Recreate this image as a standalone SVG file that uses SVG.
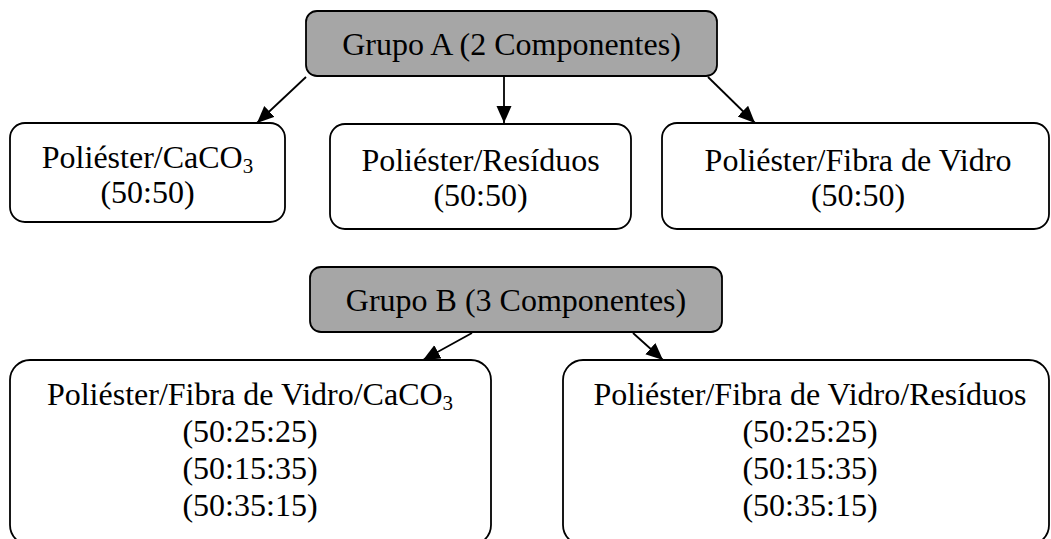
<svg xmlns="http://www.w3.org/2000/svg" width="1051" height="539" viewBox="0 0 1051 539">
<style>
.box{fill:#ffffff;stroke:#000;stroke-width:1.8}
.grp{fill:#a6a6a6;stroke:#000;stroke-width:1.8}
.t{font-family:"Liberation Serif","Times New Roman",serif;font-size:32px;fill:#000;text-anchor:middle}
.sub{font-size:21px}
.edge{stroke:#000;stroke-width:1.8;fill:none;marker-end:url(#ah)}
</style>
<defs>
<marker id="ah" markerUnits="userSpaceOnUse" markerWidth="20" markerHeight="16" refX="17" refY="7.5" orient="auto">
<path d="M0,0 L17,7.5 L0,15 z" fill="#000"/>
</marker>
</defs>
<rect width="1051" height="539" fill="#fff"/>
<g id="connectors">
<line class="edge" x1="306" y1="77" x2="257" y2="123"/>
<line class="edge" x1="504" y1="77" x2="504" y2="123"/>
<line class="edge" x1="708" y1="77" x2="755" y2="123"/>
<line class="edge" x1="472" y1="333" x2="423" y2="360"/>
<line class="edge" x1="633" y1="333" x2="663" y2="360"/>
</g>
<g id="grupoA">
<rect class="grp" x="306" y="11" width="411" height="65" rx="11"/>
<text class="t" x="511.5" y="55">Grupo A (2 Componentes)</text>
</g>
<g id="caco3">
<rect class="box" x="10" y="123" width="275" height="99" rx="15"/>
<text class="t" x="147.5" y="168">Poliéster/CaCO<tspan class="sub" dy="5">3</tspan></text>
<text class="t" x="147.5" y="203">(50:50)</text>
</g>
<g id="residuos">
<rect class="box" x="330" y="124" width="301" height="105" rx="15"/>
<text class="t" x="480.5" y="171">Poliéster/Resíduos</text>
<text class="t" x="480.5" y="206">(50:50)</text>
</g>
<g id="fibra">
<rect class="box" x="662" y="123" width="387" height="106" rx="15"/>
<text class="t" x="858" y="171">Poliéster/Fibra de Vidro</text>
<text class="t" x="858" y="206">(50:50)</text>
</g>
<g id="grupoB">
<rect class="grp" x="310" y="267" width="412" height="65" rx="11"/>
<text class="t" x="516" y="311">Grupo B (3 Componentes)</text>
</g>
<g id="fibraCaco3">
<rect class="box" x="10" y="360" width="481" height="185" rx="20"/>
<text class="t" x="250" y="405">Poliéster/Fibra de Vidro/CaCO<tspan class="sub" dy="5">3</tspan></text>
<text class="t" x="250" y="442">(50:25:25)</text>
<text class="t" x="250" y="479">(50:15:35)</text>
<text class="t" x="250" y="516">(50:35:15)</text>
</g>
<g id="fibraResiduos">
<rect class="box" x="563" y="360" width="486" height="185" rx="20"/>
<text class="t" x="810" y="405">Poliéster/Fibra de Vidro/Resíduos</text>
<text class="t" x="810" y="442">(50:25:25)</text>
<text class="t" x="810" y="479">(50:15:35)</text>
<text class="t" x="810" y="516">(50:35:15)</text>
</g>
</svg>
